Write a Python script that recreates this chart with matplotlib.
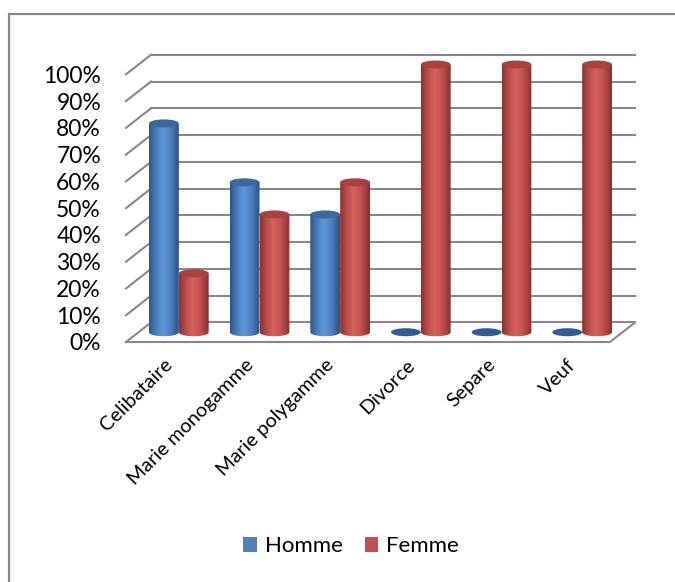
import numpy as np
import matplotlib
matplotlib.use("Agg")
import matplotlib.pyplot as plt
import matplotlib.transforms as mtransforms
from matplotlib.patches import Ellipse, PathPatch, Patch, Rectangle
from matplotlib.path import Path
from matplotlib.colors import LinearSegmentedColormap

categories = ["Celibataire", "Marie monogamme", "Marie polygamme", "Divorce", "Separe", "Veuf"]
homme = [78, 56, 44, 0, 0, 0]
femme = [22, 44, 56, 100, 100, 100]
series_names = ["Homme", "Femme"]
y_ticks = list(range(0, 101, 10))
y_labels = [f"{v}%" for v in y_ticks]

plt.rcParams["font.family"] = ["Lato", "DejaVu Sans"]

W, H = 675, 582
fig = plt.figure(figsize=(W / 100, H / 100), dpi=100)

# front plane of the 3d box (pixels)
left, right, bottom, top = 126, 610, 342, 74.3
ax = fig.add_axes([left / W, 1 - bottom / H, (right - left) / W, (bottom - top) / H])

# depth offset of the box, in data units
DX, DY = 0.31, 7.3
grid_c = "#878787"
blue, red = "#4f81bd", "#c0504d"
cmap_blue = LinearSegmentedColormap.from_list(
    "b", [(0, "#2c578b"), (0.25, "#4a7fc0"), (0.45, "#5f96d8"), (0.7, "#4e83c3"), (1, "#2a5284")])
cmap_red = LinearSegmentedColormap.from_list(
    "r", [(0, "#8c3330"), (0.25, "#c0504d"), (0.45, "#d7625e"), (0.7, "#c3524f"), (1, "#88302d")])
grad = np.linspace(0, 1, 64).reshape(1, -1)

# back wall gridlines + left wall diagonals
for v in y_ticks:
    ax.plot([DX, 6 + DX], [v + DY, v + DY], color=grid_c, lw=1.5, clip_on=False, zorder=1)
    ax.plot([0, DX], [v, v + DY], color=grid_c, lw=1.5, clip_on=False, zorder=1)
# floor front and right edges
ax.plot([0, 6, 6 + DX], [0, 0, DY], color=grid_c, lw=1.5, clip_on=False, zorder=1)

EH = 3.0      # ellipse height (data units)
BW = 0.37     # bar width


def cylinder(xc, h, cmap, cap):
    yb = DY / 2
    if h > 0:
        t = np.linspace(np.pi, 2 * np.pi, 40)
        arc = np.column_stack([xc + BW / 2 * np.cos(t), yb + EH / 2 * np.sin(t)])
        verts = np.vstack([[[xc - BW / 2, yb + h]], arc, [[xc + BW / 2, yb + h]], [[xc - BW / 2, yb + h]]])
        clip = PathPatch(Path(verts), transform=ax.transData)
        img = ax.imshow(grad, cmap=cmap, extent=[xc - BW / 2, xc + BW / 2, yb - EH, yb + h],
                        aspect="auto", interpolation="bilinear", zorder=3)
        img.set_clip_path(clip)
        img.set_clip_box(fig.bbox)
    ax.add_patch(Ellipse((xc, yb + h), BW, EH, facecolor=cap, edgecolor="none",
                         zorder=4, clip_on=False))


for i in range(len(categories)):
    c = i + 0.5 + DX / 2
    cylinder(c - 0.185, homme[i], cmap_blue, "#3a68a2" if homme[i] > 0 else "#2e5d96")
    cylinder(c + 0.185, femme[i], cmap_red, "#a8423f")

ax.set_xlim(0, 6)
ax.set_ylim(0, 100)
for s in ax.spines.values():
    s.set_visible(False)
ax.set_yticks(y_ticks, y_labels)
ax.set_xticks(np.arange(len(categories)) + 0.5, categories, rotation=45, ha="right",
              va="center", rotation_mode="anchor")
ax.tick_params(axis="y", length=0, pad=18, labelsize=16.5, colors="#000000")
ax.tick_params(axis="x", length=0, pad=13, labelsize=14.3, colors="#000000")
shift = mtransforms.ScaledTranslation(0.035, -0.02, fig.dpi_scale_trans)
for lbl in ax.get_xticklabels():
    lbl.set_transform(lbl.get_transform() + shift)

handles = [Patch(facecolor=blue), Patch(facecolor=red)]
fig.legend(handles, series_names, loc="center", bbox_to_anchor=(351 / W, 1 - 546 / H), ncol=2,
           frameon=False, fontsize=16, handlelength=0.6, handleheight=0.65,
           handletextpad=0.35, columnspacing=1.0)

# outer chart frame (only left and top visible)
fig.add_artist(Rectangle((9 / W, -0.5), 2, 1.5 - 13.5 / H, transform=fig.transFigure,
                         fill=False, ec="#868686", lw=1.6))

fig.savefig("out.png", dpi=100, facecolor="white")
